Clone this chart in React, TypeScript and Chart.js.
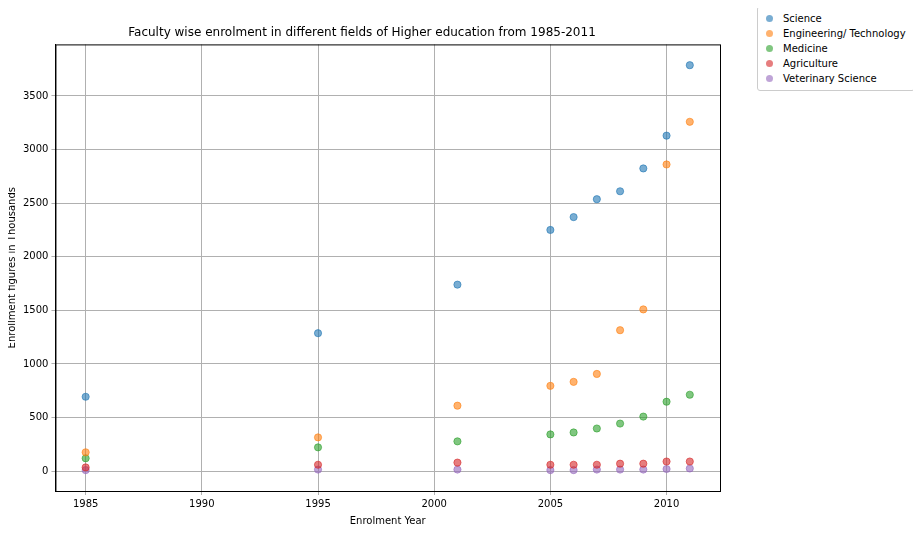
import { useEffect, useRef } from 'react';
import { Chart, registerables } from 'chart.js';

Chart.register(...registerables);

const years = [1985, 1995, 2001, 2005, 2006, 2007, 2008, 2009, 2010, 2011];
const science = [694, 1287, 1740, 2250, 2370, 2537, 2611, 2824, 3130, 3787];
const engineering = [176, 315, 611, 796, 833, 907, 1315, 1509, 2861, 3259];
const medicine = [120, 222, 278, 343, 361, 398, 444, 509, 648, 713];
const agriculture = [35, 60, 80, 60, 60, 60, 70, 70, 90, 90];
const veterinary = [10, 15, 15, 10, 10, 15, 15, 15, 20, 25];
const yTicks = [0, 500, 1000, 1500, 2000, 2500, 3000, 3500];
const xTicks = [1985, 1990, 1995, 2000, 2005, 2010];

const series = [
  { label: 'Science', data: science, color: '31,119,180' },
  { label: 'Engineering/ Technology', data: engineering, color: '255,127,14' },
  { label: 'Medicine', data: medicine, color: '44,160,44' },
  { label: 'Agriculture', data: agriculture, color: '214,39,40' },
  { label: 'Veterinary Science', data: veterinary, color: '148,103,189' },
];

// draws the full frame round the plot area, like matplotlib's spines
const frame = {
  id: 'frame',
  afterDraw(chart: Chart) {
    const { ctx, chartArea: a } = chart;
    ctx.save();
    ctx.strokeStyle = '#000';
    ctx.lineWidth = 1;
    ctx.strokeRect(a.left + 0.5, a.top + 0.5, a.right - a.left, a.bottom - a.top);
    ctx.restore();
  },
};

export default function App() {
  const ref = useRef<HTMLCanvasElement>(null);

  useEffect(() => {
    if (!ref.current) return;
    const font = { family: 'DejaVu Sans', size: 10 };
    const chart = new Chart(ref.current, {
      type: 'scatter',
      data: {
        datasets: series.map((s) => ({
          label: s.label,
          data: years.map((y, i) => ({ x: y, y: s.data[i] })),
          backgroundColor: `rgba(${s.color},0.6)`,
          borderColor: `rgba(${s.color},0.6)`,
          pointRadius: 3.6,
        })),
      },
      options: {
        responsive: false,
        animation: false,
        layout: { padding: { right: 201, left: 4, bottom: 4 } },
        plugins: {
          legend: { display: false },
          tooltip: { enabled: false },
          title: {
            display: true,
            text: 'Faculty wise enrolment in different fields of Higher education from 1985-2011',
            color: '#000',
            font: { family: 'DejaVu Sans', size: 12, weight: 'normal' },
            padding: { top: 26, bottom: 4 },
          },
        },
        scales: {
          x: {
            type: 'linear',
            min: 1983.7,
            max: 2012.3,
            afterBuildTicks: (a) => { a.ticks = xTicks.map((v) => ({ value: v })); },
            grid: { color: '#b0b0b0', tickLength: 4 },
            border: { color: '#000' },
            ticks: { color: '#000', font, maxRotation: 0, callback: (v) => String(v) },
            title: { display: true, text: 'Enrolment Year', color: '#000', font, padding: 2 },
          },
          y: {
            min: -185,
            max: 3981,
            afterBuildTicks: (a) => { a.ticks = yTicks.map((v) => ({ value: v })); },
            grid: { color: '#b0b0b0', tickLength: 4 },
            border: { color: '#000' },
            ticks: { color: '#000', font, callback: (v) => String(v) },
            title: { display: true, text: 'Enrollment figures in Thousands', color: '#000', font, padding: 2 },
          },
        },
      },
      plugins: [frame],
    });
    return () => chart.destroy();
  }, []);

  return (
    <div style={{ position: 'relative', width: 921, height: 533, margin: -8 }}>
      <canvas ref={ref} width={921} height={533} />
      <div
        style={{
          position: 'absolute', left: 757, top: 6, width: 158, padding: '4px 4px',
          boxSizing: 'border-box', border: '1px solid #ccc', borderRadius: 3,
          fontFamily: 'DejaVu Sans', fontSize: 10, background: '#fff', whiteSpace: 'nowrap',
        }}
      >
        {series.map((s) => (
          <div key={s.label} style={{ display: 'flex', alignItems: 'center', height: 15 }}>
            <span
              style={{
                width: 7, height: 7, borderRadius: '50%', marginLeft: 4, marginRight: 10,
                background: `rgba(${s.color},0.6)`, flexShrink: 0,
              }}
            />
            {s.label}
          </div>
        ))}
      </div>
    </div>
  );
}
